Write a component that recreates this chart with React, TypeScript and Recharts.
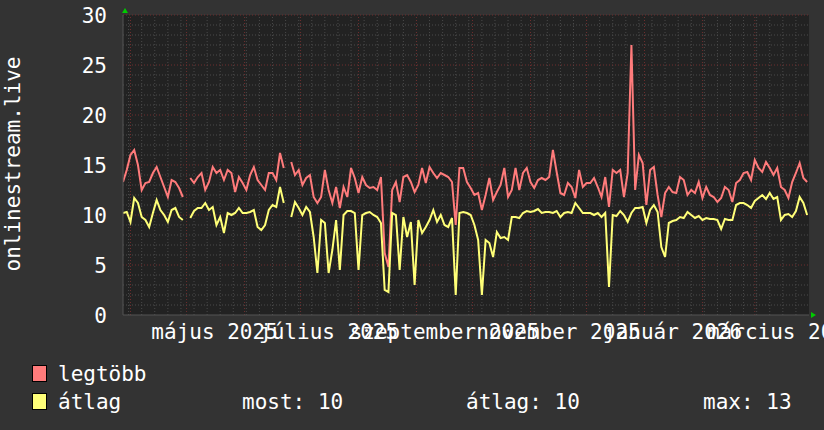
import { LineChart, Line, XAxis, YAxis, ReferenceLine, ReferenceArea } from 'recharts';

const START = '2025-03-28';
const STEP_DAYS = 2;
const END_DAY = 367;

// legtöbb (max) values, one per 2 days
const maxValues: (number | null)[] = [
  13.3, 14.5, 16, 16.5, 15, 12.5, 13.2, 13.3, 14.2, 14.8,
  13.8, 12.8, 11.8, 13.5, 13.3, 12.7, 11.8, null, 13.7, 13.2,
  13.8, 14.2, 12.5, 13.3, 14.8, 14.2, 14.5, 13.5, 14.5, 14.2,
  12.3, 13.8, 13.2, 12.5, 14, 14.8, 13.5, 13, 12.5, 14.2,
  14.2, 13.5, 16.2, 14.7, null, 15.3, 14, 14.5, 13, 13.7,
  14, 11.8, 11.2, 11.8, 14.5, 12.5, 11.2, 12.8, 10.7, 12.8,
  11.8, 14.7, 13.7, 12.2, 13.8, 13, 12.7, 12.8, 12.5, 13.8,
  6.2, 4.8, 12.5, 13.3, 11.3, 13.8, 14, 13.3, 12.3, 13,
  14.7, 13.2, 14.8, 14.2, 13.7, 14.2, 14, 13.8, 13.3, 9,
  14.7, 14.7, 13.3, 12.7, 12, 12.2, 10.5, 12, 13.7, 11.5,
  12.3, 13, 14.7, 11.8, 12.5, 14.7, 12.5, 14.2, 14.7, 13.3,
  12.7, 13.5, 13.7, 13.5, 13.8, 16.5, 14.3, 12.2, 12, 13.2,
  12.8, 11.7, 14.5, 12.8, 13.2, 13.2, 13.7, 12.8, 11.8, 13.8,
  10.8, 14.5, 14.2, 14.5, 11.8, 14.2, 27, 12.5, 16, 15.2,
  11, 14.5, 14.8, 12, 9.8, 12.2, 12.8, 12.3, 12.2, 13.8,
  13.5, 12, 12.5, 12.2, 13.3, 11.7, 12.8, 12, 11.8, 11.3,
  11.7, 12.8, 12.5, 11.3, 13.2, 13.5, 14.2, 14.3, 13.5, 15.5,
  14.7, 14.3, 15.3, 14.7, 14, 14.7, 12.8, 12.5, 11.7, 13.3,
  14.2, 15.2, 13.7, 13.3,
];

// átlag (average) values, one per 2 days
const avgValues: (number | null)[] = [
  10.2, 10.3, 9.3, 11.7, 11.2, 9.8, 9.5, 8.8, 10.2, 11.5,
  10.5, 10, 9.3, 10.5, 10.7, 9.8, 9.5, null, 9.7, 10.4,
  10.7, 10.7, 11.2, 10.5, 10.8, 9, 9.8, 8.2, 10.2, 10,
  10.2, 10.7, 10.2, 10.2, 10.3, 10.5, 8.8, 8.5, 9, 10.5,
  11, 10.8, 12.8, 11.2, null, 9.8, 11.3, 10.7, 10, 10.8,
  10.3, 7.8, 4.2, 9.5, 9.2, 4.2, 6.5, 9.5, 4.5, 10,
  10.4, 10.4, 10.2, 4.5, 10, 10.2, 10.3, 10, 9.8, 9.2,
  2.5, 2.3, 10.2, 10, 4.5, 9.8, 7.8, 9.3, 3, 9.5,
  8.2, 8.8, 9.5, 10.5, 9.3, 10, 9, 8.8, 9.7, 2,
  10.2, 10.3, 10.2, 10, 9, 7.5, 2, 7.5, 7.2, 5.8,
  8.3, 7.7, 7.8, 7.5, 9.8, 9.8, 9.7, 10.2, 10.4, 10.3,
  10.4, 10.6, 10.2, 10.3, 10.3, 10.2, 10.4, 9.8, 10.2, 10.3,
  10.2, 11.2, 10.7, 10.2, 10.2, 10.2, 10, 10.2, 9.8, 10.2,
  2.8, 10, 9.9, 10.4, 10, 9.3, 10.2, 10.7, 10.7, 10.8,
  9.2, 10.5, 11, 10.3, 6.8, 5.8, 9.2, 9.4, 9.5, 9.8,
  9.7, 10.3, 10, 9.7, 9.9, 9.5, 9.7, 9.6, 9.6, 9.5,
  8.6, 9.6, 9.5, 9.5, 11, 11.2, 11.2, 11, 10.7, 11.4,
  11.7, 12, 11.6, 12.2, 11.6, 11.8, 9.5, 10, 10.1, 9.8,
  10.4, 11.8, 11.2, 10,
];

const monthStarts = [
  '2025-04-01', '2025-05-01', '2025-06-01', '2025-07-01', '2025-08-01', '2025-09-01',
  '2025-10-01', '2025-11-01', '2025-12-01', '2026-01-01', '2026-02-01', '2026-03-01',
];
const firstMonday = '2025-03-31';
const labelMonths = ['2025-05-01', '2025-07-01', '2025-09-01', '2025-11-01', '2026-01-01', '2026-03-01'];
const labelTexts = ['május 2025', 'július 2025', 'szeptember 2025', 'november 2025', 'január 2026', 'március 2026'];
const yTicks = [0, 5, 10, 15, 20, 25, 30];

const legendNames = ['legtöbb', 'átlag'];
const statLabels = ['most:', 'átlag:', 'max:'];
const statValues = [10, 10, 13];

const dayOf = (iso: string) => (Date.parse(iso) - Date.parse(START)) / 86400000;

const data = maxValues.map((v, i) => ({ day: i * STEP_DAYS, max: v, avg: avgValues[i] }));

const monthDays = monthStarts.map(dayOf);
const weekDays: number[] = [];
for (let d = dayOf(firstMonday); d < END_DAY; d += 7) weekDays.push(d);
const labelDays = labelMonths.map((m) => dayOf(m) + 15);
const minorY: number[] = [];
for (let v = 1; v < 30; v++) if (v % 5 !== 0) minorY.push(v);
const majorY = [5, 10, 15, 20, 25, 30];

const FONT = '"DejaVu Sans Mono", monospace';
const RED = '#ff7b7b';
const YELLOW = '#ffff78';
const MINOR = '#4a4a4a';
const MAJOR = '#6e2e2e';

const XTick = (props: any) => {
  const { x, y, payload } = props;
  const idx = labelDays.indexOf(payload.value);
  return (
    <text x={x} y={339} textAnchor="middle" fill="#fff" fontFamily={FONT} fontSize={21}>
      {labelTexts[idx]}
    </text>
  );
};

const YTick = (props: any) => {
  const { y, payload } = props;
  return (
    <text x={107} y={y + 7.5} textAnchor="end" fill="#fff" fontFamily={FONT} fontSize={21}>
      {payload.value}
    </text>
  );
};

export default function App() {
  return (
    <div style={{ position: 'absolute', left: 0, top: 0, width: 824, height: 430, background: '#333', overflow: 'hidden' }}>
      <LineChart width={824} height={430} data={data} margin={{ top: 15, right: 15, bottom: 0, left: 0 }}>
        <XAxis
          dataKey="day"
          type="number"
          domain={[0, END_DAY]}
          ticks={labelDays}
          interval={0}
          height={115}
          tickLine={false}
          axisLine={{ stroke: '#555' }}
          tick={<XTick />}
          allowDataOverflow
        />
        <YAxis
          type="number"
          domain={[0, 30]}
          ticks={yTicks}
          interval={0}
          width={123}
          tickLine={false}
          axisLine={{ stroke: '#555' }}
          tick={<YTick />}
        />
        <ReferenceArea x1={0} x2={END_DAY} y1={0} y2={30} fill="#222" fillOpacity={1} stroke="none" />
        {minorY.map((v) => (
          <ReferenceLine key={'my' + v} y={v} stroke={MINOR} strokeDasharray="1 2" />
        ))}
        {weekDays.map((d) => (
          <ReferenceLine key={'wx' + d} x={d} stroke={MINOR} strokeDasharray="1 2" />
        ))}
        {majorY.map((v) => (
          <ReferenceLine key={'My' + v} y={v} stroke={MAJOR} strokeDasharray="1 2" />
        ))}
        {monthDays.map((d) => (
          <ReferenceLine key={'Mx' + d} x={d} stroke={MAJOR} strokeDasharray="1 2" />
        ))}
        <Line type="linear" dataKey="max" stroke={RED} strokeWidth={2} dot={false} isAnimationActive={false} />
        <Line type="linear" dataKey="avg" stroke={YELLOW} strokeWidth={2} dot={false} isAnimationActive={false} />
      </LineChart>
      <svg width={824} height={430} style={{ position: 'absolute', left: 0, top: 0, pointerEvents: 'none' }}>
        <text transform="translate(20,164) rotate(-90)" textAnchor="middle" fill="#fff" fontFamily={FONT} fontSize={21}>
          onlinestream.live
        </text>
        <polygon points="122,13 128,13 125,8" fill="#0c0" />
        <polygon points="811,312 811,318 816,315" fill="#0c0" />
        {legendNames.map((name, i) => (
          <g key={name}>
            <rect x={32.5} y={365.5 + i * 28} width={14} height={16} fill={i === 0 ? RED : YELLOW} stroke="#000" />
            <text x={58} y={381 + i * 28} fill="#fff" fontFamily={FONT} fontSize={21}>
              {name}
            </text>
          </g>
        ))}
        {statLabels.map((label, i) => (
          <text key={label} x={[242, 466, 703][i]} y={409} fill="#fff" fontFamily={FONT} fontSize={21}>
            {label} {statValues[i]}
          </text>
        ))}
      </svg>
    </div>
  );
}
